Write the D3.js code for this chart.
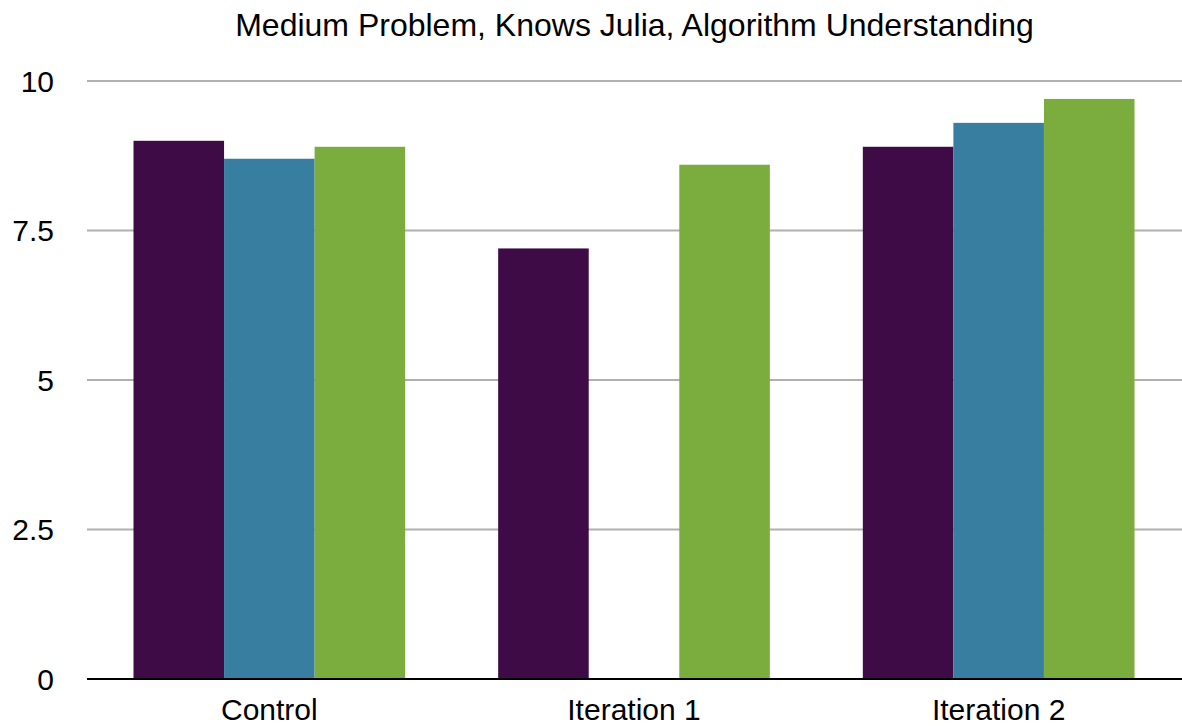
<!DOCTYPE html>
<html>
<head>
<meta charset="utf-8">
<script src="https://cdn.jsdelivr.net/npm/d3@7"></script>
<style>
  html, body { margin: 0; padding: 0; background: #fff; }
  text { font-family: "Liberation Sans", Arial, Helvetica, sans-serif; fill: #000; }
</style>
</head>
<body>
<svg id="chart" width="1182" height="726"></svg>
<script>
// Scores per group; the middle series has no value for Iteration 1
const categories = ["Control", "Iteration 1", "Iteration 2"];
const seriesNames = ["A", "B", "C"];
const seriesA = [9.0, 7.2, 8.9];
const seriesB = [8.7, null, 9.3];
const seriesC = [8.9, 8.6, 9.7];
const yTicks = [0, 2.5, 5, 7.5, 10];
const yTickLabels = ["0", "2.5", "5", "7.5", "10"];
const colors = ["#3e0b47", "#377ea1", "#7aad3d"];
const title = "Medium Problem, Knows Julia, Algorithm Understanding";

const series = [seriesA, seriesB, seriesC];

const svg = d3.select("#chart");
const W = 1182, H = 726;
const margin = { left: 87, right: 1, top: 81, bottom: 47 };

const x = d3.scaleBand()
  .domain(categories)
  .range([margin.left, W - margin.right])
  .paddingInner(0.255)
  .paddingOuter(0.1275);

const xInner = d3.scaleBand()
  .domain(seriesNames)
  .range([0, x.bandwidth()]);

const y = d3.scaleLinear()
  .domain([0, 10])
  .range([H - margin.bottom, margin.top]);

// Horizontal grid lines
svg.append("g")
  .selectAll("line")
  .data(yTicks.filter(d => d !== 0))
  .join("line")
  .attr("x1", margin.left)
  .attr("x2", W)
  .attr("y1", d => y(d))
  .attr("y2", d => y(d))
  .attr("stroke", "#b0b0b0")
  .attr("stroke-width", 2);

// Y tick labels
svg.append("g")
  .selectAll("text")
  .data(yTicks)
  .join("text")
  .attr("x", 54)
  .attr("y", d => y(d))
  .attr("dy", "0.36em")
  .attr("text-anchor", "end")
  .style("font-size", "30px")
  .text((d, i) => yTickLabels[i]);

// Bars
const rows = [];
categories.forEach((c, ci) => {
  series.forEach((s, si) => {
    if (s[ci] !== null) rows.push({ cat: c, key: seriesNames[si], value: s[ci], color: colors[si] });
  });
});

svg.append("g")
  .selectAll("rect")
  .data(rows)
  .join("rect")
  .attr("x", d => x(d.cat) + xInner(d.key))
  .attr("width", xInner.bandwidth())
  .attr("y", d => y(d.value))
  .attr("height", d => y(0) - y(d.value))
  .attr("fill", d => d.color);

// Baseline
svg.append("line")
  .attr("x1", margin.left)
  .attr("x2", W)
  .attr("y1", y(0))
  .attr("y2", y(0))
  .attr("stroke", "#000")
  .attr("stroke-width", 2);

// Category labels
svg.append("g")
  .selectAll("text")
  .data(categories)
  .join("text")
  .attr("x", d => x(d) + x.bandwidth() / 2)
  .attr("y", y(0) + 41)
  .attr("text-anchor", "middle")
  .style("font-size", "30px")
  .text(d => d);

// Title
svg.append("text")
  .attr("x", (margin.left + W) / 2)
  .attr("y", 36)
  .attr("text-anchor", "middle")
  .style("font-size", "32px")
  .text(title);
</script>
</body>
</html>
